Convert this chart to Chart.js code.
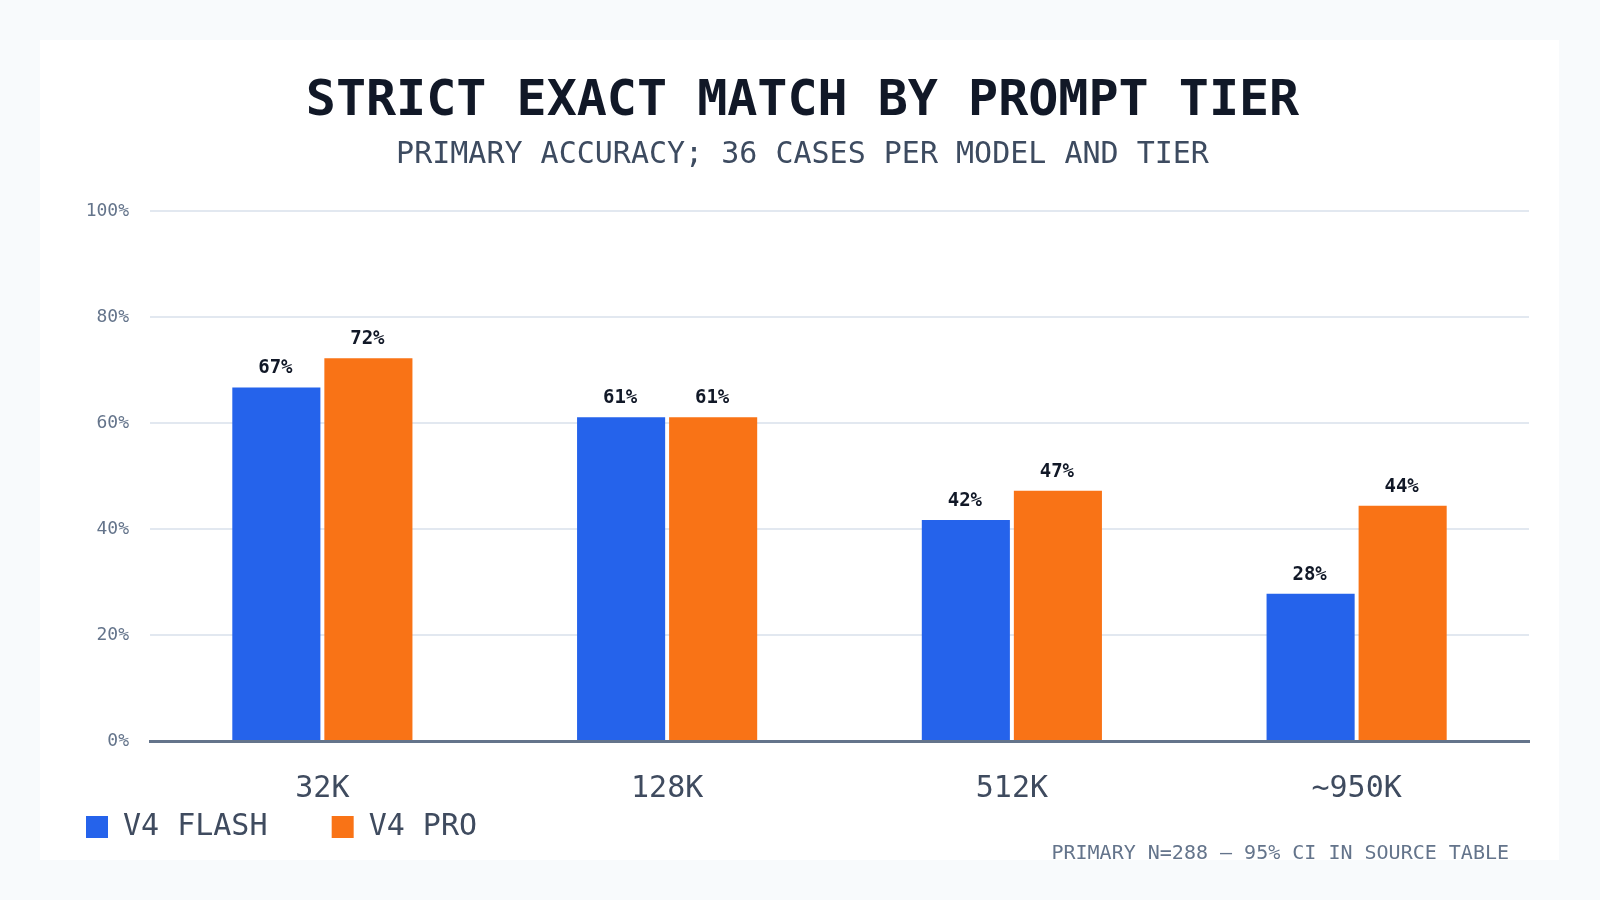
<!DOCTYPE html>
<html>
<head>
<meta charset="utf-8">
<script src="https://cdn.jsdelivr.net/npm/chart.js@4/dist/chart.umd.min.js"></script>
<style>
  html, body { margin: 0; padding: 0; background: #f8fafc; }
  #card {
    position: absolute;
    left: 40px; top: 40px;
    width: 1519px; height: 820px;
    background: #ffffff;
    overflow: hidden;
  }
</style>
</head>
<body>
<div id="card"><canvas id="myChart"></canvas></div>
<script>
// values (36 cases per model and tier)
var tiers = ["32K", "128K", "512K", "~950K"];
var flashValues = [66.7, 61.1, 41.7, 27.8];
var proValues = [72.2, 61.1, 47.2, 44.4];
var seriesNames = ["V4 FLASH", "V4 PRO"];
var yTicks = [0, 20, 40, 60, 80, 100];

var titleText = "STRICT EXACT MATCH BY PROMPT TIER";
var subtitleText = "PRIMARY ACCURACY; 36 CASES PER MODEL AND TIER";
var footerText = "PRIMARY N=288 – 95% CI IN SOURCE TABLE";

var mono = "'DejaVu Sans Mono', 'Liberation Mono', monospace";

// bar value labels on top of each bar
var valueLabels = {
    id: 'valueLabels',
    afterDatasetsDraw: function(chart) {
        var ctx = chart.ctx;
        ctx.save();
        ctx.font = "bold 19px " + mono;
        ctx.fillStyle = "#111827";
        ctx.textAlign = "center";
        ctx.textBaseline = "middle";
        chart.data.datasets.forEach(function(ds, i) {
            chart.getDatasetMeta(i).data.forEach(function(bar, j) {
                ctx.fillText(Math.round(ds.data[j]) + "%", bar.x - 1, bar.y - 19);
            });
        });
        ctx.restore();
    }
};

// small note in the bottom right corner
var footerNote = {
    id: 'footerNote',
    afterDraw: function(chart) {
        var ctx = chart.ctx;
        ctx.save();
        ctx.font = "20px " + mono;
        ctx.fillStyle = "#64748b";
        ctx.textAlign = "right";
        ctx.textBaseline = "middle";
        ctx.fillText(footerText, chart.width - 50, chart.height - 6);
        ctx.restore();
    }
};

new Chart(document.getElementById("myChart").getContext("2d"), {
    type: 'bar',
    data: {
        labels: tiers,
        datasets: [{
            label: seriesNames[0],
            data: flashValues,
            backgroundColor: "#2563eb",
            borderWidth: 0,
            barPercentage: 0.957,
            categoryPercentage: 0.534
        }, {
            label: seriesNames[1],
            data: proValues,
            backgroundColor: "#f97316",
            borderWidth: 0,
            barPercentage: 0.957,
            categoryPercentage: 0.534
        }]
    },
    options: {
        responsive: true,
        maintainAspectRatio: false,
        animation: false,
        layout: {
            padding: { top: 0, left: 36, right: 30, bottom: 8 }
        },
        scales: {
            x: {
                grid: { display: false, drawTicks: false },
                border: { display: true, color: "#64748b", width: 3, z: 1 },
                ticks: {
                    padding: 36,
                    color: "#3f4b5f",
                    font: { family: mono, size: 30, lineHeight: 0.8 }
                },
                afterFit: function(s) { s.height = 61; }
            },
            y: {
                min: yTicks[0],
                max: yTicks[yTicks.length - 1],
                afterBuildTicks: function(s) {
                    s.ticks = yTicks.map(function(v) { return { value: v }; });
                },
                grid: {
                    drawTicks: false,
                    lineWidth: 2,
                    color: function(c) {
                        return c.tick && c.tick.value === 0 ? "rgba(0,0,0,0)" : "#e2e8f0";
                    }
                },
                border: { display: false },
                ticks: {
                    padding: 21,
                    color: "#64748b",
                    font: { family: mono, size: 18 },
                    callback: function(v) { return v + "%"; }
                },
                afterFit: function(s) { s.width = 74; }
            }
        },
        plugins: {
            title: {
                display: true,
                text: titleText,
                color: "#111827",
                font: { family: mono, size: 50, weight: 'bold' },
                padding: { top: 32, bottom: 5 }
            },
            subtitle: {
                display: true,
                text: subtitleText,
                color: "#3d4b60",
                font: { family: mono, size: 30, weight: 'normal' },
                padding: { top: 0, bottom: 38 }
            },
            legend: {
                position: 'bottom',
                align: 'start',
                labels: {
                    boxWidth: 22,
                    boxHeight: 22,
                    padding: 10,
                    color: "#3f4b5f",
                    font: { family: mono, size: 30 },
                    generateLabels: function(chart) {
                        var items = Chart.defaults.plugins.legend.labels.generateLabels(chart);
                        items.forEach(function(it) { it.text = it.text + "   "; });
                        return items;
                    }
                }
            },
            tooltip: { enabled: false }
        }
    },
    plugins: [valueLabels, footerNote]
});
</script>
</body>
</html>
